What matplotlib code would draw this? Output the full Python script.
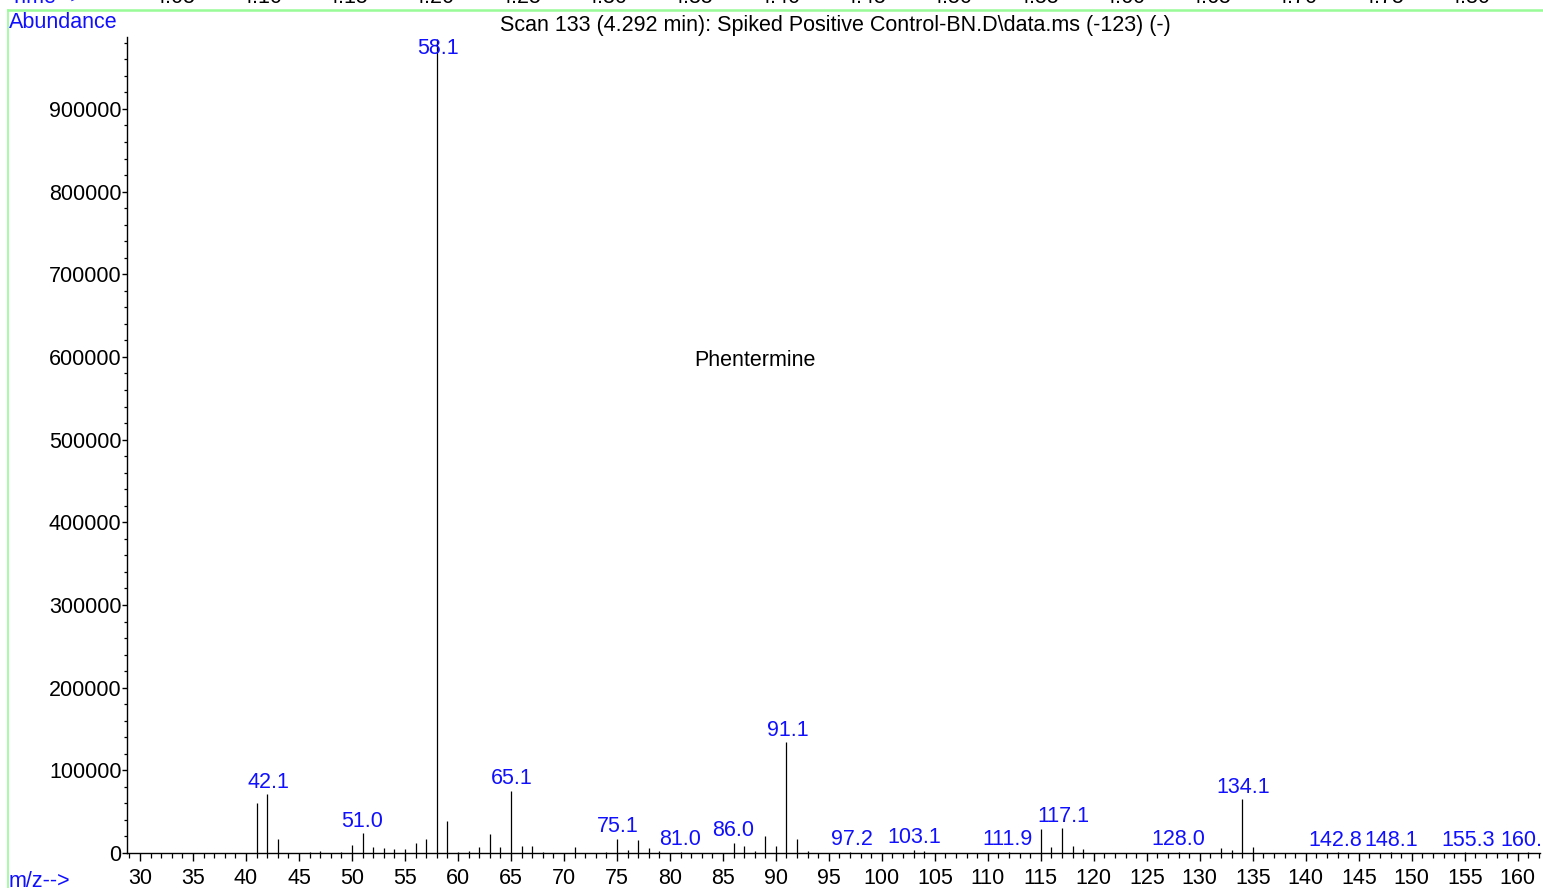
import matplotlib
matplotlib.use("Agg")
import matplotlib.pyplot as plt
from matplotlib.ticker import MultipleLocator, FixedLocator
import matplotlib.transforms as mtransforms

plt.rcParams['font.family'] = ['Liberation Sans', 'DejaVu Sans']

# ---- data ----
peak_mz = [41, 42, 43, 46, 47, 49, 50, 51, 52, 53, 54, 55, 56, 57, 58, 59, 60, 61,
           62, 63, 64, 65, 66, 67, 68, 71, 74, 75, 76, 77, 78, 79, 81, 86, 87, 88,
           89, 90, 91, 92, 93, 97, 103, 104, 112, 115, 116, 117, 118, 119, 128,
           132, 133, 134, 135, 143, 148, 155, 161]
peak_abundance = [60000, 71000, 17000, 1000, 2500, 1000, 10000, 24000, 7500, 5500,
                  4500, 5000, 12000, 17500, 985000, 38700, 1200, 2400, 7000, 23000,
                  7300, 75000, 8500, 8500, 1000, 7000, 1500, 17000, 4000, 16000,
                  6000, 3000, 1500, 12500, 8500, 2000, 20000, 9000, 134000, 17000,
                  2000, 1500, 4000, 2000, 1500, 29000, 7500, 30000, 8500, 5000,
                  1500, 6500, 4000, 65000, 7000, 1000, 1000, 1000, 1000]
label_mz = [42.1, 51.0, 58.1, 65.1, 75.1, 81.0, 86.0, 91.1, 97.2, 103.1, 111.9,
            117.1, 128.0, 134.1, 142.8, 148.1, 155.3, 160.9]
label_text = ["42.1", "51.0", "58.1", "65.1", "75.1", "81.0", "86.0", "91.1", "97.2",
              "103.1", "111.9", "117.1", "128.0", "134.1", "142.8", "148.1", "155.3",
              "160.9"]
y_ticks = [0, 100000, 200000, 300000, 400000, 500000, 600000, 700000, 800000, 900000]
x_ticks = list(range(30, 161, 5))
time_labels = ["4.05", "4.10", "4.15", "4.20", "4.25", "4.30", "4.35", "4.40",
               "4.45", "4.50", "4.55", "4.60", "4.65", "4.70", "4.75", "4.80"]

W, H = 1543, 888
FS = 15.5
fig = plt.figure(figsize=(W / 100, H / 100), dpi=100)
ax = fig.add_axes([127 / W, 1 - 853 / H, (1540 - 127) / W, (853 - 37) / H])

xmin, xmax = 28.77, 162.1
ymin, ymax = 0, 987000
ax.set_xlim(xmin, xmax)
ax.set_ylim(ymin, ymax)

ax.vlines(peak_mz, 0, peak_abundance, colors='black', linewidth=0.9)

# labels above peaks
blue = '#1010ff'
lookup = dict(zip(peak_mz, peak_abundance))
label_cap = (853 - 60) / (853 - 37) * ymax
offset = mtransforms.offset_copy(ax.transData, fig=fig, x=0, y=12, units='dots')
for mz, txt in zip(label_mz, label_text):
    h = lookup.get(int(round(mz)), 0)
    h = min(h, label_cap)
    ax.text(mz, h, txt, transform=offset, ha='center', va='center',
            color=blue, fontsize=FS, clip_on=False)

for s in ['top', 'right']:
    ax.spines[s].set_visible(False)
for s in ['left', 'bottom']:
    ax.spines[s].set_linewidth(1.0)

ax.xaxis.set_major_locator(FixedLocator(x_ticks))
ax.xaxis.set_minor_locator(MultipleLocator(1))
ax.yaxis.set_major_locator(FixedLocator(y_ticks))
ax.yaxis.set_minor_locator(MultipleLocator(20000))
ax.set_yticklabels([str(v) for v in y_ticks])
ax.tick_params(axis='x', which='major', direction='out', length=6, width=1.0,
               labelsize=FS, pad=4.5)
ax.tick_params(axis='x', which='minor', direction='out', length=3.5, width=0.9)
ax.tick_params(axis='y', which='major', direction='out', length=3.5, width=1.0,
               labelsize=FS, pad=0.5)
ax.tick_params(axis='y', which='minor', direction='out', length=2.2, width=0.9)

# annotations
fig.text(835 / W, 1 - 25 / H,
         "Scan 133 (4.292 min): Spiked Positive Control-BN.D\\data.ms (-123) (-)",
         ha='center', va='center', fontsize=FS, color='black')
fig.text(755 / W, 1 - 361 / H, "Phentermine", ha='center', va='center',
         fontsize=FS, color='black')
fig.text(9 / W, 1 - 22 / H, "Abundance", ha='left', va='center', fontsize=FS,
         color=blue)
fig.text(9 / W, 1 - 881 / H, "m/z-->", ha='left', va='center', fontsize=FS,
         color=blue)

# remnant of chromatogram panel above
fig.text(9 / W, 1 + 3 / H, "Time-->", ha='left', va='center', fontsize=FS,
         color=blue)
for i, t in enumerate(time_labels):
    fig.text((175 + i * 86.3) / W, 1 + 3 / H, t, ha='center', va='center',
             fontsize=FS, color='black')

green = '#98fb98'
fig.add_artist(plt.Line2D([8 / W, 1], [1 - 10 / H, 1 - 10 / H], color=green,
                          linewidth=1.8, transform=fig.transFigure))
fig.add_artist(plt.Line2D([8 / W, 8 / W], [1 - 10 / H, 0], color=green,
                          linewidth=1.2, transform=fig.transFigure))

fig.savefig("out.png", dpi=100)
